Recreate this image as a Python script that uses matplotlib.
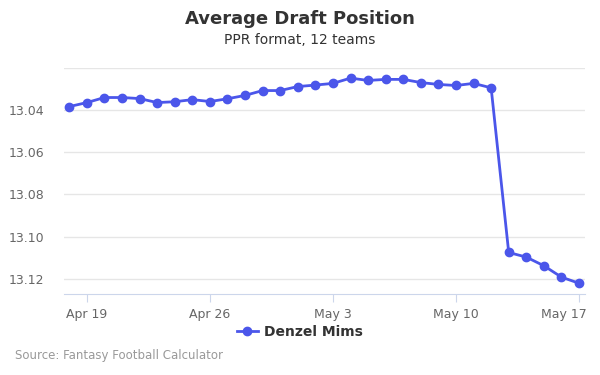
import matplotlib
matplotlib.use("Agg")
import matplotlib.pyplot as plt
import matplotlib.dates as mdates
import matplotlib.transforms as mtransforms
import numpy as np
import datetime as dt

start_date = dt.date(2020, 4, 18)
adp_values = [13.0383, 13.0364, 13.0340, 13.0340, 13.0345, 13.0364, 13.0360, 13.0350,
              13.0359, 13.0346, 13.0330, 13.0307, 13.0307, 13.0288, 13.0281, 13.0273,
              13.0248, 13.0259, 13.0254, 13.0254, 13.0269, 13.0278, 13.0283, 13.0273,
              13.0294, 13.1075, 13.1097, 13.1138, 13.1192, 13.1221]
dates = [start_date + dt.timedelta(days=i) for i in range(len(adp_values))]
y_ticks = [13.04, 13.06, 13.08, 13.10, 13.12]
y_tick_labels = ["13.04", "13.06", "13.08", "13.10", "13.12"]
x_tick_dates = [dt.date(2020, 4, 19), dt.date(2020, 4, 26), dt.date(2020, 5, 3),
                dt.date(2020, 5, 10), dt.date(2020, 5, 17)]
x_tick_labels = ["Apr 19", "Apr 26", "May 3", "May 10", "May 17"]
series_name = "Denzel Mims"

color = "#4B56EA"
fig = plt.figure(figsize=(6, 3.75), dpi=100)
ax = fig.add_axes([64/600, 1-294/375, (585-64)/600, (294-68)/375])

ax.plot(dates, adp_values, color=color, lw=2, marker="o", ms=6, label=series_name, zorder=3)

ax.set_ylim(13.1272, 13.02)
ax.set_xlim(mdates.date2num(start_date) - 0.3, mdates.date2num(dates[-1]) + 0.34)

ax.set_yticks([13.02] + y_ticks)
ax.set_yticklabels([""] + y_tick_labels)
ax.set_xticks(x_tick_dates)
ax.set_xticklabels(x_tick_labels)

ax.grid(axis="y", color="#e6e6e6", lw=1)
ax.set_axisbelow(True)
for s in ["top", "right", "left"]:
    ax.spines[s].set_visible(False)
ax.spines["bottom"].set_color("#ccd6eb")
ax.tick_params(axis="y", length=0, labelsize=9, labelcolor="#666666", pad=14)
ax.tick_params(axis="x", length=6, color="#ccd6eb", labelsize=9, labelcolor="#666666", pad=4)

last_lbl = ax.get_xticklabels()[-1]
last_lbl.set_transform(last_lbl.get_transform() +
                       mtransforms.ScaledTranslation(-15/100, 0, fig.dpi_scale_trans))

fig.text(0.5, 1-19/375, "Average Draft Position", ha="center", va="center",
         fontsize=13, fontweight="bold", color="#333333")
fig.text(0.5, 1-40/375, "PPR format, 12 teams", ha="center", va="center",
         fontsize=10, color="#333333")
fig.text(15/600, 1-356/375, "Source: Fantasy Football Calculator", ha="left", va="center",
         fontsize=8.5, color="#999999")

leg = fig.legend(loc="center", bbox_to_anchor=(0.5, 1-332/375), frameon=False,
                 prop={"weight": "bold", "size": 10}, handlelength=1.5, handletextpad=0.5,
                 markerscale=1.0)
for t in leg.get_texts():
    t.set_color("#333333")

fig.savefig("out.png", dpi=100)
